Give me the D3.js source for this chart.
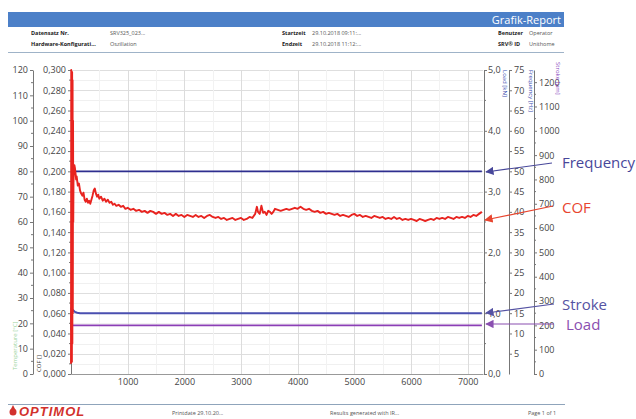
<!DOCTYPE html>
<html><head><meta charset="utf-8">
<script src="https://cdn.jsdelivr.net/npm/d3@7/dist/d3.min.js"></script>
<style>
html,body{margin:0;padding:0;background:#fff;}
svg{display:block;font-family:"Open Sans","DejaVu Sans",sans-serif;}
</style></head>
<body>
<svg id="c" width="636" height="419"></svg>
<script>
// ---------- data ----------
const xTicks = [1000,2000,3000,4000,5000,6000,7000];
const leftTicks = [0,10,20,30,40,50,60,70,80,90,100,110,120];
const cofTicks = [0,0.02,0.04,0.06,0.08,0.10,0.12,0.14,0.16,0.18,0.20,0.22,0.24,0.26,0.28,0.30];
const r1Ticks = [0,1,2,3,4,5];
const r2Ticks = [5,10,15,20,25,30,35,40,45,50,55,60,65,70,75];
const r3Ticks = [0,100,200,300,400,500,600,700,800,900,1000,1100,1200];

const cofT = [0,4,8,12,16,20,24,28,32,36,40,44,
 50,60,70,80,90,100,120,140,160,180,200,220,240,260,280,300,320,340,360,380,400,420,440,460,480,500,
 530,560,590,620,650,680,710,740,770,800,840,880,920,960,1000,1050,1100,1150,1200,1250,1300,1350,1400,
 1450,1500,1550,1600,1650,1700,1750,1800,1850,1900,1950,2000,2050,2100,2150,2200,2250,2300,2350,2400,
 2450,2500,2550,2600,2650,2700,2750,2800,2850,2900,2950,3000,3050,3100,3150,3200,3250,3280,3300,3330,
 3360,3390,3420,3450,3480,3510,3540,3570,3600,3650,3700,3750,3800,3850,3900,3950,4000,4050,4100,4150,
 4200,4250,4300,4350,4400,4450,4500,4550,4600,4650,4700,4750,4800,4850,4900,4950,5000,5050,5100,5150,
 5200,5250,5300,5350,5400,5450,5500,5550,5600,5650,5700,5750,5800,5850,5900,5950,6000,6050,6100,6150,
 6200,6250,6300,6350,6400,6450,6500,6550,6600,6650,6700,6750,6800,6850,6900,6950,7000,7050,7100,7150,
 7200,7250];
const cofV = [0.010,0.300,0.020,0.295,0.012,0.298,0.030,0.290,0.060,0.250,0.150,0.190,
 0.200,0.206,0.203,0.198,0.192,0.195,0.186,0.188,0.181,0.178,0.176,0.179,0.172,0.170,0.173,0.169,0.171,0.168,0.172,0.176,0.181,0.183,0.178,0.175,0.177,0.173,
 0.175,0.171,0.173,0.170,0.172,0.169,0.170,0.167,0.168,0.166,0.167,0.165,0.166,0.163,0.164,0.162,0.163,0.161,0.162,0.160,0.161,0.159,0.161,
 0.160,0.158,0.160,0.158,0.159,0.157,0.158,0.156,0.158,0.156,0.157,0.155,0.157,0.156,0.155,0.157,0.155,0.156,0.154,0.156,
 0.157,0.155,0.154,0.155,0.153,0.154,0.152,0.153,0.154,0.152,0.153,0.154,0.152,0.153,0.155,0.154,0.158,0.165,0.160,0.158,
 0.166,0.159,0.160,0.157,0.161,0.160,0.158,0.160,0.163,0.162,0.161,0.162,0.163,0.162,0.163,0.164,0.163,0.165,0.163,0.162,
 0.163,0.161,0.160,0.161,0.159,0.160,0.158,0.159,0.158,0.157,0.158,0.156,0.157,0.156,0.155,0.157,0.158,0.156,0.157,0.155,
 0.156,0.155,0.154,0.156,0.155,0.154,0.155,0.153,0.154,0.153,0.155,0.153,0.154,0.152,0.153,0.152,0.153,0.152,0.151,0.153,
 0.152,0.151,0.152,0.153,0.152,0.154,0.153,0.154,0.153,0.155,0.154,0.153,0.155,0.154,0.155,0.154,0.156,0.155,0.157,0.156,
 0.158,0.160];
const freqT = [0,7250];
const freqV = [50,50];
const strokeT = [0,8,20,40,70,110,160,7250];
const strokeV = [180,262,258,262,255,252,250,250];
const loadT = [0,10,7250];
const loadV = [195,200,200];

// ---------- layout ----------
const svg = d3.select("#c");
const X0 = 71, X1 = 483, Y0 = 374, Y1 = 70;
const x = d3.scaleLinear([0,7270],[X0,X1]);
const yCof = d3.scaleLinear([0,0.3],[Y0,Y1]);
const yLeft = d3.scaleLinear([0,120],[Y0,Y1]);
const yR1 = d3.scaleLinear([0,5],[Y0,Y1]);
const yR2 = d3.scaleLinear([0,75],[Y0,Y1]);
const yR3 = d3.scaleLinear([0,1250],[Y0,Y1]);
const tickCol = "#444", axCol = "#777", fs = 9;

// ---------- header ----------
svg.append("rect").attr("x",8).attr("y",12).attr("width",556).attr("height",15).attr("fill","#4c80c8");
svg.append("text").attr("x",561).attr("y",24).attr("text-anchor","end").attr("fill","#fff")
  .attr("font-size",11).text("Grafik-Report");
const hdr = [
 [31,35,"Datensatz Nr.",true],[110,35,"SRV325_023...",false],
 [282,35,"Startzeit",true],[312,35,"29.10.2018 09:11:...",false],
 [498,35,"Benutzer",true],[529,35,"Operator",false],
 [31,46,"Hardware-Konfigurati...",true],[110,46,"Oszillation",false],
 [282,46,"Endzeit",true],[312,46,"29.10.2018 11:12:...",false],
 [498,46,"SRV® ID",true],[529,46,"Unithome",false]];
svg.selectAll("text.hdr").data(hdr).join("text").attr("class","hdr")
 .attr("x",d=>d[0]).attr("y",d=>d[1]).attr("font-size",5.5)
 .attr("font-weight",d=>d[3]?"bold":"normal").attr("fill",d=>d[3]?"#222":"#555").text(d=>d[2]);
svg.append("line").attr("x1",8).attr("x2",564).attr("y1",52.5).attr("y2",52.5).attr("stroke","#9fb3c8").attr("stroke-width",1.2);

// ---------- grid ----------
const g = svg.append("g");
const minorY = d3.range(0.01,0.3,0.02);
g.selectAll("line.hmin").data(minorY).join("line").attr("x1",X0).attr("x2",X1)
 .attr("y1",d=>Math.round(yCof(d))+0.5).attr("y2",d=>Math.round(yCof(d))+0.5).attr("stroke","#f0f0f0");
g.selectAll("line.hmaj").data(cofTicks.slice(1)).join("line").attr("x1",X0).attr("x2",X1)
 .attr("y1",d=>Math.round(yCof(d))+0.5).attr("y2",d=>Math.round(yCof(d))+0.5).attr("stroke","#dedede");
g.selectAll("line.vmin").data([500,1500,2500,3500,4500,5500,6500]).join("line")
 .attr("x1",d=>Math.round(x(d))+0.5).attr("x2",d=>Math.round(x(d))+0.5).attr("y1",Y1).attr("y2",Y0).attr("stroke","#f2f2f2");
g.selectAll("line.vmaj").data(xTicks).join("line")
 .attr("x1",d=>Math.round(x(d))+0.5).attr("x2",d=>Math.round(x(d))+0.5).attr("y1",Y1).attr("y2",Y0).attr("stroke","#dcdcdc");

// ---------- axes ----------
function styleAxis(sel){
  sel.selectAll("path.domain").attr("stroke",axCol);
  sel.selectAll(".tick line").attr("stroke",axCol);
  sel.selectAll(".tick text").attr("fill",tickCol).attr("font-size",fs).attr("font-family","Open Sans, DejaVu Sans, sans-serif");
}
function minor(xpos, scale, vals, dir){
  svg.append("g").selectAll("line").data(vals).join("line")
   .attr("x1",xpos).attr("x2",xpos+dir*2).attr("y1",d=>scale(d)).attr("y2",d=>scale(d)).attr("stroke",axCol);
}
const fmt = d3.formatLocale({decimal:",",thousands:".",grouping:[3],currency:["",""]});
// bottom
const ax = svg.append("g").attr("transform",`translate(0,${Y0})`)
 .call(d3.axisBottom(x).tickValues(xTicks).tickSize(0).tickPadding(5).tickFormat(d3.format("d")));
styleAxis(ax); ax.select("path.domain").attr("stroke","#999");
// left outer
const al = svg.append("g").attr("transform","translate(33,0)")
 .call(d3.axisLeft(yLeft).tickValues(leftTicks).tickSize(3).tickPadding(2).tickSizeOuter(0));
styleAxis(al);
minor(33,yLeft,d3.range(5,120,10),-1);
// cof axis
const ac = svg.append("g").attr("transform",`translate(${X0},0)`)
 .call(d3.axisLeft(yCof).tickValues(cofTicks).tickSize(3).tickPadding(2).tickSizeOuter(0).tickFormat(fmt.format(".3f")));
styleAxis(ac);
minor(X0,yCof,minorY,-1);
// right 1
const a1 = svg.append("g").attr("transform",`translate(${X1+1},0)`)
 .call(d3.axisRight(yR1).tickValues(r1Ticks).tickSize(3).tickPadding(1).tickSizeOuter(0).tickFormat(fmt.format(".1f")));
styleAxis(a1);
minor(X1+1,yR1,d3.range(0.5,5,1),1);
// right 2
const a2 = svg.append("g").attr("transform","translate(509,0)")
 .call(d3.axisRight(yR2).tickValues(r2Ticks).tickSize(3).tickPadding(2).tickSizeOuter(0));
styleAxis(a2);
// right 3
const a3 = svg.append("g").attr("transform","translate(534,0)")
 .call(d3.axisRight(yR3).tickValues(r3Ticks).tickSize(3).tickPadding(2).tickSizeOuter(0).tickFormat(d3.format("d")));
styleAxis(a3);
minor(534,yR3,d3.range(50,1250,100),1);

// axis titles
function vtitle(xp,yp,txt,col,rot){
  svg.append("text").attr("transform",`translate(${xp},${yp}) rotate(${rot})`).attr("font-size",6)
   .attr("fill",col).text(txt);
}
vtitle(503,70,"Load [kN]","#3a4cb0",90);
vtitle(529,70,"Frequency [Hz]","#3a4cb0",90);
vtitle(556,62,"Stroke [µm]","#8a4ac0",90);
vtitle(17,370,"Temperature [°C]","#9cd49c",-90);
vtitle(41,372,"COF []","#444",-90);

// ---------- series ----------
const line = (ys)=>d3.line().x(d=>x(d[0])).y(d=>ys(d[1]));
const plot = svg.append("g");
plot.append("path").datum(d3.zip(loadT,loadV)).attr("d",line(yR3)).attr("fill","none").attr("stroke","#8b3fb5").attr("stroke-width",1.6);
plot.append("path").datum(d3.zip(strokeT,strokeV)).attr("d",line(yR3)).attr("fill","none").attr("stroke","#4a4fb0").attr("stroke-width",2);
plot.append("path").datum(d3.zip(freqT,freqV)).attr("d",line(yR2)).attr("fill","none").attr("stroke","#2e2f8f").attr("stroke-width",1.6);
plot.append("path").datum(d3.zip(cofT,cofV)).attr("d",line(yCof)).attr("fill","none").attr("stroke","#e8231f").attr("stroke-width",1.9).attr("stroke-linejoin","round");

// ---------- annotations ----------
const defs = svg.append("defs");
function marker(id,col){
  defs.append("marker").attr("id",id).attr("viewBox","0 0 10 10").attr("refX",9).attr("refY",5)
   .attr("markerWidth",7).attr("markerHeight",7).attr("orient","auto-start-reverse")
   .append("path").attr("d","M0,0 L10,5 L0,10 z").attr("fill",col);
}
const ann = [
 {t:"Frequency",col:"#47479a",tx:562,ty:168,x1:552,y1:163,x2:486,y2:172},
 {t:"COF",col:"#e8452f",tx:562,ty:213,x1:553,y1:206,x2:485,y2:220},
 {t:"Stroke",col:"#5553a3",tx:562,ty:310,x1:554,y1:304,x2:486,y2:313},
 {t:"Load",col:"#8a4fb0",tx:566,ty:330,x1:554,y1:324,x2:486,y2:324}];
ann.forEach((a,i)=>{
  marker("m"+i,a.col);
  svg.append("line").attr("x1",a.x1).attr("y1",a.y1).attr("x2",a.x2).attr("y2",a.y2)
   .attr("stroke",a.col).attr("stroke-width",1.2).attr("marker-end",`url(#m${i})`);
  svg.append("text").attr("x",a.tx).attr("y",a.ty).attr("font-size",15).attr("fill",a.col)
   .attr("font-family","Open Sans, sans-serif").text(a.t);
});

// ---------- footer ----------
svg.append("line").attr("x1",8).attr("x2",565).attr("y1",404.5).attr("y2",404.5).attr("stroke","#8fa4bb").attr("stroke-width",1.2);
svg.append("circle").attr("cx",13).attr("cy",412).attr("r",3.5).attr("fill","#d2312d");
svg.append("path").attr("d","M13,405 L10.5,410 L15.5,410 Z").attr("fill","#d2312d");
svg.append("text").attr("x",19).attr("y",416).attr("font-size",13).attr("font-weight","bold").attr("font-style","italic")
  .attr("fill","#d2312d").attr("letter-spacing",1).attr("font-family","Liberation Sans, Arial, sans-serif").text("OPTIMOL");
[[172,"Printdate 29.10.20..."],[330,"Results generated with IR..."],[528,"Page 1 of 1"]].forEach(f=>{
  svg.append("text").attr("x",f[0]).attr("y",415).attr("font-size",5.5).attr("fill","#555").text(f[1]);
});
</script>
</body></html>
